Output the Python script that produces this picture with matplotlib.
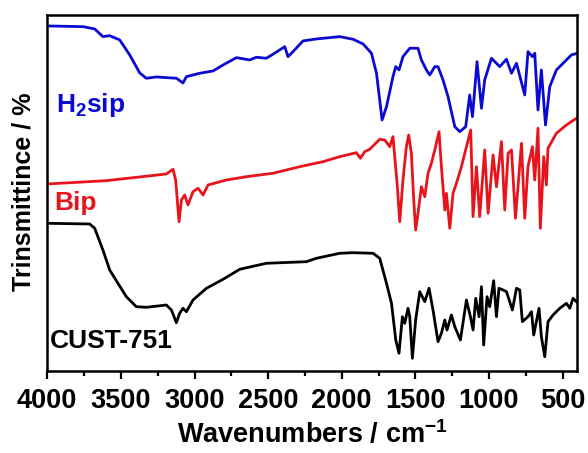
import matplotlib
matplotlib.use("Agg")
import matplotlib.pyplot as plt
from matplotlib.ticker import MultipleLocator

plt.rcParams['font.family'] = ['Liberation Sans', 'DejaVu Sans']
plt.rcParams['font.weight'] = 'bold'
plt.rcParams['mathtext.fontset'] = 'custom'
plt.rcParams['mathtext.rm'] = 'Liberation Sans:bold'
plt.rcParams['mathtext.bf'] = 'Liberation Sans:bold'
plt.rcParams['mathtext.default'] = 'bf'

# IR spectra, offset transmittance (arbitrary units)
h2sip_wn = [4000, 3757, 3678, 3622, 3576, 3508, 3440, 3372, 3327, 3259, 3123, 3078, 3055,
            2965, 2874, 2806, 2715, 2625, 2580, 2512, 2467, 2387, 2365, 2331, 2263, 2172,
            2014, 1923, 1855, 1798, 1764, 1742, 1726, 1696, 1652, 1633, 1611, 1584, 1538,
            1482, 1459, 1425, 1402, 1368, 1346, 1312, 1278, 1232, 1198, 1158, 1131, 1112,
            1081, 1051, 1029, 983, 927, 881, 847, 813, 757, 735, 705, 689, 667, 644, 616,
            587, 542, 474, 440, 402]
h2sip_t = [345, 344.3, 342, 334.3, 335.3, 331, 316, 298, 292.7, 294, 292.7, 288, 294.3,
           297.7, 300, 306, 313.3, 311, 313.7, 312.7, 316.7, 324.3, 314.3, 319.3, 330, 332,
           334.3, 331.7, 327, 317.7, 297.7, 271, 251, 264.3, 294.3, 304.3, 301, 314.3, 322.7,
           322.7, 311, 301, 296, 304.3, 304.3, 291, 274.3, 244.3, 239.3, 244.3, 276, 254.3,
           309.3, 262.7, 291, 312.7, 304.3, 311.7, 297.7, 307.7, 276, 319.3, 314.3, 317.7,
           261, 301, 246, 284.3, 301, 311, 316, 317.7]

bip_wn = [4000, 3599, 3191, 3146, 3128, 3105, 3089, 3067, 3044, 3010, 2976, 2942, 2908,
          2783, 2647, 2467, 2285, 2127, 2014, 1901, 1873, 1844, 1810, 1742, 1708, 1674,
          1652, 1624, 1606, 1584, 1561, 1545, 1527, 1511, 1498, 1479, 1459, 1436, 1414,
          1391, 1368, 1339, 1323, 1300, 1289, 1266, 1244, 1221, 1187, 1153, 1124, 1108,
          1085, 1063, 1029, 1006, 972, 949, 915, 893, 870, 847, 820, 779, 757, 735, 705,
          689, 667, 651, 628, 610, 599, 542, 474, 406]
bip_t = [187, 190.3, 197, 201.7, 191, 149.3, 171, 176, 166, 179.3, 182.7, 176, 186,
         191, 194.3, 197.7, 204.3, 209.3, 214.3, 218.3, 212.7, 219.3, 221.7, 231.7, 231, 224.3,
         234.3, 187.7, 149.3, 191, 224.3, 236, 217.7, 171, 141, 161, 184.3, 174.3, 197.7,
         207.7, 221, 239.3, 204.3, 161, 177.7, 142.7, 177.7, 187.7, 204.3, 224.3, 241, 154.3,
         204.3, 154.3, 221, 157.7, 216, 184.3, 229.3, 161, 217.7, 221, 152.7, 227.7, 152.7,
         204.3, 224.3, 191, 242.7, 142.7, 214.3, 186, 222.7, 237.7, 246, 252.7]

cust_wn = [4000, 3712, 3678, 3622, 3576, 3520, 3463, 3395, 3327, 3191, 3157, 3123, 3101,
           3078, 3055, 3010, 2919, 2806, 2693, 2512, 2240, 2172, 2014, 1923, 1787, 1742,
           1696, 1662, 1633, 1611, 1588, 1572, 1550, 1538, 1520, 1498, 1470, 1436, 1407,
           1380, 1346, 1323, 1300, 1285, 1255, 1232, 1194, 1153, 1126, 1108, 1090, 1067,
           1051, 1036, 1013, 995, 968, 949, 932, 904, 881, 841, 813, 791, 773, 735, 711,
           696, 660, 644, 621, 599, 565, 519, 474, 451, 429, 406]
cust_t = [147.7, 147, 142.7, 121, 101, 87.7, 74.3, 64.3, 63.7, 66, 61, 48.3, 57.7,
          62.7, 59.3, 71, 82.7, 91.7, 101.7, 107.7, 109.3, 112.7, 117.7, 118.3, 117.7, 112.7,
          87.7, 67.7, 31, 17.7, 54.3, 47.7, 62.7, 54.3, 12.7, 51, 79.3, 69.3, 82.7,
          61, 29.3, 37.7, 51, 41, 56, 44.3, 31, 71, 54.3, 41, 72.7, 54.3,
          84.3, 26, 74.3, 64.3, 90.3, 54.3, 82.7, 81, 79.3, 61, 82.7, 81, 49.3, 54.3, 59.3,
          36, 62.7, 34.3, 14.3, 49.3, 56, 62.7, 67.7, 62.7, 72.7, 69.3]

blue = '#0A0AD2'
red = '#E8141C'

fig = plt.figure(figsize=(5.88, 4.53), dpi=100)
ax = fig.add_axes([0.0804, 0.181, 0.9014, 0.786])

ax.plot(h2sip_wn, h2sip_t, color=blue, lw=2)
ax.plot(bip_wn, bip_t, color=red, lw=2)
ax.plot(cust_wn, cust_t, color='black', lw=2)

ax.set_xlim(4000, 400)
ax.set_ylim(0, 356)
ax.xaxis.set_major_locator(MultipleLocator(500))
ax.xaxis.set_minor_locator(MultipleLocator(250))
ax.tick_params(axis='x', which='major', direction='out', length=6, width=1.6,
               labelsize=19.5, pad=6)
ax.tick_params(axis='x', which='minor', direction='out', length=3.5, width=1.6)
ax.set_yticks([])
for s in ax.spines.values():
    s.set_linewidth(1.8)

ax.text(0.016, 0.728, 'H$_2$sip', transform=ax.transAxes, color=blue,
        fontsize=19, fontweight='bold', va='baseline')
ax.text(0.014, 0.452, 'Bip', transform=ax.transAxes, color=red,
        fontsize=19, fontweight='bold', va='baseline')
ax.text(0.005, 0.064, 'CUST-751', transform=ax.transAxes, color='black',
        fontsize=19, fontweight='bold', va='baseline')

ax.set_xlabel('Wavenumbers / cm$^{-1}$', fontsize=19.5, fontweight='bold', labelpad=5)
fig.text(24 / 588, 1 - 192 / 453, 'Trinsmittince / %', rotation=90, fontsize=18,
         fontweight='bold', ha='center', va='center')

fig.savefig('out.png', dpi=100)
